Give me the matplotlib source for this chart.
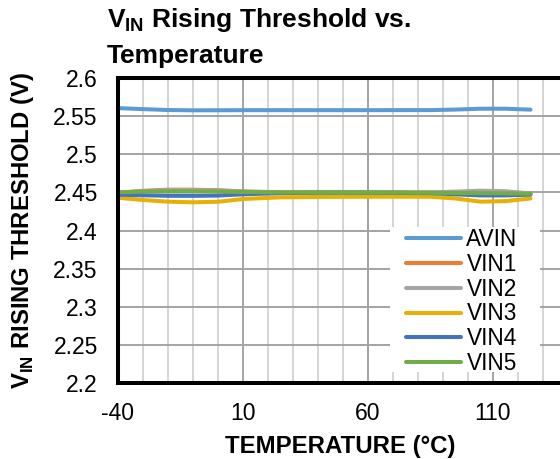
import matplotlib
matplotlib.use("Agg")
import matplotlib.pyplot as plt
from matplotlib.patches import Rectangle

plt.rcParams['font.family'] = ['Liberation Sans', 'DejaVu Sans']
plt.rcParams['mathtext.fontset'] = 'custom'
plt.rcParams['mathtext.rm'] = 'Liberation Sans'
plt.rcParams['mathtext.bf'] = 'Liberation Sans:bold'
plt.rcParams['axes.unicode_minus'] = False

# ---- data ----
temps = [-40, -30, -20, -10, 0, 10, 25, 40, 60, 85, 95, 105, 115, 125]
avin = [2.5605, 2.5592, 2.5580, 2.5576, 2.5577, 2.5578, 2.5578, 2.5578, 2.5578, 2.5579, 2.5586, 2.5597, 2.5597, 2.5585]
vin1 = [2.4495, 2.4520, 2.4535, 2.4535, 2.4528, 2.4512, 2.4502, 2.4500, 2.4500, 2.4498, 2.4502, 2.4510, 2.4505, 2.4485]
vin2 = [2.4495, 2.4515, 2.4530, 2.4530, 2.4525, 2.4510, 2.4500, 2.4500, 2.4500, 2.4500, 2.4510, 2.4522, 2.4515, 2.4485]
vin3 = [2.4430, 2.4400, 2.4378, 2.4370, 2.4377, 2.4413, 2.4435, 2.4440, 2.4443, 2.4443, 2.4420, 2.4378, 2.4385, 2.4420]
vin4 = [2.4470, 2.4462, 2.4455, 2.4455, 2.4458, 2.4475, 2.4490, 2.4495, 2.4495, 2.4490, 2.4475, 2.4460, 2.4460, 2.4470]
vin5 = [2.4500, 2.4510, 2.4512, 2.4512, 2.4510, 2.4505, 2.4500, 2.4500, 2.4500, 2.4495, 2.4492, 2.4490, 2.4487, 2.4482]

series_names = ['AVIN', 'VIN1', 'VIN2', 'VIN3', 'VIN4', 'VIN5']
series_vals = [avin, vin1, vin2, vin3, vin4, vin5]
colors = ['#5B9BD5', '#ED7D31', '#A5A5A5', '#E8B000', '#4472C4', '#70AD47']

xticks = [-40, 10, 60, 110]
xminor = [-30, -20, -10, 0, 20, 30, 40, 50, 70, 80, 90, 100, 120, 130]
yticks = [2.2, 2.25, 2.3, 2.35, 2.4, 2.45, 2.5, 2.55, 2.6]
ytick_labels = ['2.2', '2.25', '2.3', '2.35', '2.4', '2.45', '2.5', '2.55', '2.6']

W, H = 560, 459
fig = plt.figure(figsize=(W / 100, H / 100), dpi=100)
L, R, T, B = 118, 563, 78, 383
ax = fig.add_axes([L / W, 1 - B / H, (R - L) / W, (B - T) / H])

ax.set_xlim(-40, -40 + (R - L) / 2.5)
ax.set_ylim(2.2, 2.6)
ax.set_xticks(xticks)
ax.set_xticks(xminor, minor=True)
ax.set_yticks(yticks)
ax.set_yticklabels(ytick_labels)
ax.tick_params(axis='both', which='both', length=0, labelsize=16.5)
ax.tick_params(axis='y', pad=14.5)
ax.tick_params(axis='x', pad=14)
ax.set_axisbelow(True)
ax.grid(True, which='major', axis='both', color='#a3a3a3', linewidth=1.4)
ax.grid(True, which='minor', axis='x', color='#d4d4d4', linewidth=1.4)
for s in ax.spines.values():
    s.set_linewidth(2.9)
    s.set_color('black')

# legend background
ax.add_patch(Rectangle((390 / W, 1 - 372 / H), 150 / W, 145 / H, transform=fig.transFigure,
                       facecolor='white', edgecolor='none', zorder=1))

for name, vals, c in zip(series_names, series_vals, colors):
    ax.plot(temps, vals, color=c, linewidth=2.9, label=name, solid_capstyle='round', zorder=2)

leg = ax.legend(loc='upper left', bbox_to_anchor=(406 / W, 1 - 228 / H), bbox_transform=fig.transFigure,
                frameon=False, fontsize=16.3, borderpad=0, borderaxespad=0, handlelength=2.45,
                handletextpad=0.22, labelspacing=0.08)

fig.text(107 / W, 1 - 27 / H, r'V$_{\mathbf{IN}}$ Rising Threshold vs.', fontsize=19, fontweight='bold',
         ha='left', va='baseline')
fig.text(107 / W, 1 - 63 / H, 'Temperature', fontsize=19, fontweight='bold', ha='left', va='baseline')
fig.text(23 / W, 1 - 231 / H, r'V$_{\mathbf{IN}}$ RISING THRESHOLD (V)', fontsize=17.2, fontweight='bold',
         rotation=90, ha='center', va='center')
fig.text(340 / W, 1 - 453 / H, 'TEMPERATURE (°C)', fontsize=17.3, fontweight='bold', ha='center', va='baseline')

fig.savefig('out.png', dpi=100)
